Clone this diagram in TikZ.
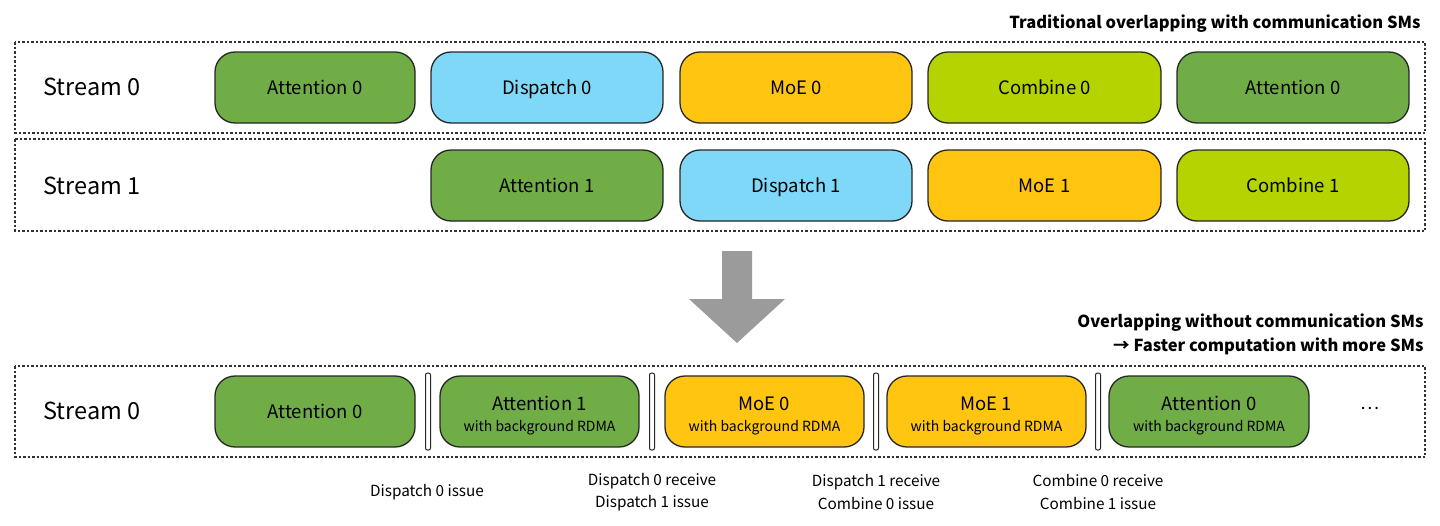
\documentclass[tikz,border=0pt]{standalone}
\usepackage{fontspec}
\setmainfont{Noto Sans CJK SC}
\usetikzlibrary{positioning}
\definecolor{attn}{HTML}{70AD47}
\definecolor{disp}{HTML}{80D8F9}
\definecolor{moe}{HTML}{FFC511}
\definecolor{comb}{HTML}{B5D300}
\definecolor{arrowgray}{HTML}{9B9B9B}
\definecolor{dashgray}{HTML}{333333}
\tikzset{
  stage/.style={draw=black!85, line width=1.3pt, rounded corners=20pt, minimum height=71pt, inner sep=2pt, font=\fontsize{18.5}{22}\selectfont, align=center},
  oneline/.style={text height=16.5pt, text depth=1.8pt},
  lane/.style={draw=dashgray, line width=1.3pt, dash pattern=on 2.5pt off 2pt},
  streamlbl/.style={font=\fontsize{23.5}{28}\selectfont, anchor=west},
  sep/.style={draw=black!85, fill=white, line width=1pt, rounded corners=2pt, minimum width=5pt, minimum height=77pt, inner sep=0pt},
  note/.style={font=\fontsize{15.3}{22.5}\selectfont, align=center},
  heading/.style={font=\bfseries\fontsize{16.5}{24}\selectfont, align=right, anchor=east},
}
\newcommand{\twoline}[1]{{\fontsize{18.5}{20}\selectfont\rule{0pt}{23pt}#1}\\[-1pt]{\fontsize{14}{16}\selectfont with background RDMA}}
\begin{document}
\begin{tikzpicture}[x=1pt,y=-1pt]
\useasboundingbox (0,0) rectangle (1440,525);
% headings
\node[heading] (h1) at (1424,24) {Traditional overlapping with communication SMs};
\node[heading] (h2) at (1427,334.5) {Overlapping without communication SMs\\→ Faster computation with more SMs};
% lanes
\draw[lane] (15,42) rectangle (1425,133);
\draw[lane] (15,139) rectangle (1425,231);
\draw[lane] (15,366) rectangle (1425,457);
% stream labels
\node[streamlbl] (s0) at (40,87) {Stream 0};
\node[streamlbl] (s1) at (40,186) {Stream 1};
\node[streamlbl] (s2) at (40,411) {Stream 0};
% row 1
\node[stage, oneline, fill=attn, minimum width=200pt] (a0) at (315,87.5) {Attention 0};
\node[stage, oneline, fill=disp, minimum width=232pt] (d0) at (547,87.5) {Dispatch 0};
\node[stage, oneline, fill=moe, minimum width=232pt] (m0) at (796,87.5) {MoE 0};
\node[stage, oneline, fill=comb, minimum width=233pt] (c0) at (1044.5,87.5) {Combine 0};
\node[stage, oneline, fill=attn, minimum width=232pt] (a0b) at (1293,87.5) {Attention 0};
% row 2
\node[stage, oneline, fill=attn, minimum width=232pt] (a1) at (547,185.5) {Attention 1};
\node[stage, oneline, fill=disp, minimum width=232pt] (d1) at (796,185.5) {Dispatch 1};
\node[stage, oneline, fill=moe, minimum width=233pt] (m1) at (1044.5,185.5) {MoE 1};
\node[stage, oneline, fill=comb, minimum width=232pt] (c1) at (1293,185.5) {Combine 1};
% arrow
\fill[arrowgray] (722,251) -- (752,251) -- (752,299) -- (785,299) -- (737,343) -- (689,299) -- (722,299) -- cycle;
% bottom row
\node[stage, oneline, fill=attn, minimum width=200pt] (ba0) at (315,411.5) {Attention 0};
\node[sep] (b1) at (428,411.5) {};
\node[stage, fill=attn, minimum width=199pt] (ba1) at (539.5,411.5) {\twoline{Attention 1}};
\node[sep] (b2) at (652,411.5) {};
\node[stage, fill=moe, minimum width=199pt] (bm0) at (764.5,411.5) {\twoline{MoE 0}};
\node[sep] (b3) at (876,411.5) {};
\node[stage, fill=moe, minimum width=199pt] (bm1) at (986.5,411.5) {\twoline{MoE 1}};
\node[sep] (b4) at (1098,411.5) {};
\node[stage, fill=attn, minimum width=200pt] (ba2) at (1209,411.5) {\twoline{Attention 0}};
\node[font=\fontsize{18}{20}\selectfont] (dots) at (1370,408) {…};
% bottom notes
\node[note] (n1) at (427,492) {Dispatch 0 issue};
\node[note] (n2) at (652,492) {Dispatch 0 receive\\Dispatch 1 issue};
\node[note] (n3) at (876,492) {Dispatch 1 receive\\Combine 0 issue};
\node[note] (n4) at (1098,492) {Combine 0 receive\\Combine 1 issue};
\end{tikzpicture}
\end{document}
